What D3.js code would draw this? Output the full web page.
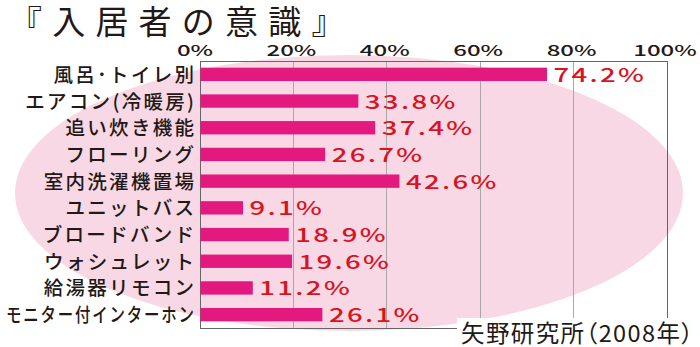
<!DOCTYPE html>
<html><head><meta charset="utf-8">
<script src="https://cdn.jsdelivr.net/npm/d3@7"></script>
<style>
html,body{margin:0;padding:0;background:#fff;}
svg{display:block;}
</style></head>
<body>
<svg id="chart" width="700" height="347"></svg>
<script>
const title = "『入居者の意識』";
const source = "矢野研究所（2008年）";
const categories = ["風呂･トイレ別","エアコン(冷暖房)","追い炊き機能","フローリング","室内洗濯機置場","ユニットバス","ブロードバンド","ウォシュレット","給湯器リモコン","モニター付インターホン"];
const values = [74.2,33.8,37.4,26.7,42.6,9.1,18.9,19.6,11.2,26.1];
const tickValues = [0,20,40,60,80,100];

const svg = d3.select("#chart");
const W = 700, H = 347;
const plot = {left:200, right:667, top:61, bottom:328};
const x = d3.scaleLinear().domain([0,100]).range([plot.left, plot.right]);
const y = d3.scaleBand().domain(categories).range([plot.top, plot.bottom]).paddingInner(0.5).paddingOuter(0.25);

const FONT = "'Noto Sans CJK JP','Noto Sans',sans-serif";
const INK = "#231815";

// background ellipse
svg.append("ellipse").attr("cx",349).attr("cy",193).attr("rx",334).attr("ry",138).attr("fill","#f9d8e6");

// gridlines
svg.append("g").selectAll("line").data(tickValues.slice(1,-1)).join("line")
  .attr("x1",d=>x(d)).attr("x2",d=>x(d)).attr("y1",plot.top).attr("y2",plot.bottom)
  .attr("stroke","#a8a8a8").attr("stroke-width",1).attr("shape-rendering","crispEdges");

// frame
svg.append("rect").attr("x",plot.left).attr("y",plot.top).attr("width",plot.right-plot.left).attr("height",plot.bottom-plot.top)
  .attr("fill","none").attr("stroke","#666").attr("stroke-width",1).attr("shape-rendering","crispEdges");

// bars
svg.append("g").selectAll("rect").data(values).join("rect")
  .attr("x",x(0)+0.5).attr("y",(d,i)=>y(categories[i]))
  .attr("width",d=>x(d)-x(0)).attr("height",y.bandwidth())
  .attr("fill","#e4197f");

// value labels
svg.append("g").selectAll("text").data(values).join("text")
  .attr("transform",(d,i)=>`translate(${x(d)+7},${y(categories[i])+y.bandwidth()/2+7.5}) scale(1.45,1)`)
  .attr("font-family",FONT).attr("font-size",19).attr("font-weight",500).attr("letter-spacing",1.6)
  .attr("fill","#d7141f")
  .text(d=>d3.format(".1f")(d)+"%");

// category labels
const catG = svg.append("g");
categories.forEach((c,i)=>{
  const t = catG.append("text")
    .attr("font-family",FONT).attr("font-size",19.5).attr("font-weight",500).attr("letter-spacing",2.3)
    .attr("fill",INK).attr("text-anchor","end").attr("x",2.3)
    .text(c);
  const len = t.node().getComputedTextLength();
  const maxW = 190;
  const sx = len > maxW ? maxW/len : 1;
  t.attr("transform",`translate(194,${y(c)+y.bandwidth()/2+7.5}) scale(${sx},1)`);
});

// top axis tick labels
svg.append("g").selectAll("text").data(tickValues).join("text")
  .attr("transform",(d,i)=>`translate(${x(d)-(i===0?5:2)},56) scale(1.6,1)`)
  .attr("text-anchor","middle")
  .attr("font-family",FONT).attr("font-size",15).attr("font-weight",500)
  .attr("fill",INK)
  .text(d=>d+"%");

// title
svg.append("text").attr("x",9).attr("y",33.5)
  .attr("font-family",FONT).attr("font-size",33).attr("letter-spacing",10.2)
  .attr("fill",INK).text(title);

// source with white backing
svg.append("rect").attr("x",457).attr("y",318).attr("width",W-457).attr("height",H-318).attr("fill","#fff");
svg.append("text").attr("x",694.5).attr("y",342).attr("text-anchor","end")
  .attr("font-family",FONT).attr("font-size",23.5).attr("letter-spacing",1.4)
  .style("font-feature-settings","'palt' 1")
  .attr("fill",INK).text(source);
</script>
</body></html>
